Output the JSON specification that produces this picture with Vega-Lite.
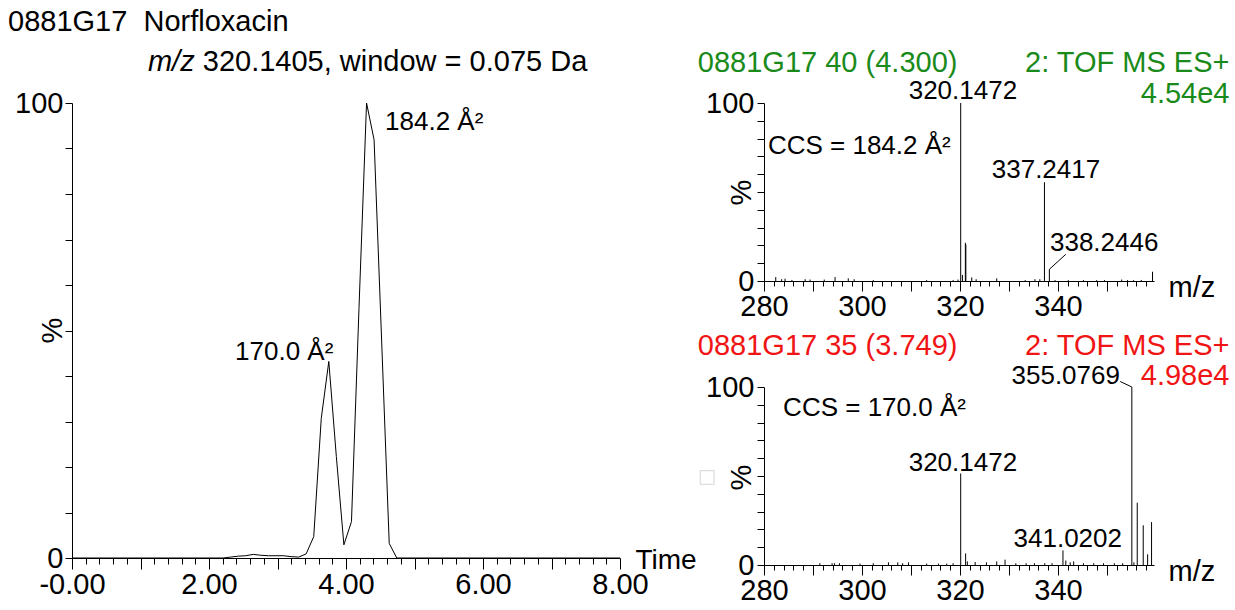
{
  "$schema": "https://vega.github.io/schema/vega-lite/v6.json",
  "background": "white",
  "padding": {"left": 8, "top": 8, "right": 5, "bottom": 5},
  "config": {
    "font": "Liberation Sans",
    "view": {"stroke": null},
    "axis": {"grid": false, "domainColor": "black", "tickColor": "black", "labelColor": "black", "titleColor": "black", "labelFont": "Liberation Sans", "titleFont": "Liberation Sans", "labelFontSize": 29, "titleFontSize": 29, "titleFontWeight": "normal", "tickCount": 200},
    "text": {"font": "Liberation Sans", "color": "black"}
  },
  "datasets": {
    "chrom": [
      {"t": 0, "pct": 0}, {"t": 2.206, "pct": 0}, {"t": 2.316, "pct": 0.2}, {"t": 2.426, "pct": 0.4},
      {"t": 2.537, "pct": 0.5}, {"t": 2.647, "pct": 0.8}, {"t": 2.757, "pct": 0.6}, {"t": 2.867, "pct": 0.5},
      {"t": 2.978, "pct": 0.5}, {"t": 3.088, "pct": 0.5}, {"t": 3.198, "pct": 0.3}, {"t": 3.308, "pct": 0.2},
      {"t": 3.418, "pct": 0.9}, {"t": 3.529, "pct": 4.7}, {"t": 3.639, "pct": 30.7}, {"t": 3.749, "pct": 43.2},
      {"t": 3.859, "pct": 22.3}, {"t": 3.969, "pct": 2.9}, {"t": 4.08, "pct": 8.0}, {"t": 4.19, "pct": 55},
      {"t": 4.3, "pct": 100}, {"t": 4.41, "pct": 91.9}, {"t": 4.52, "pct": 47.9}, {"t": 4.631, "pct": 3.2},
      {"t": 4.741, "pct": 0}, {"t": 8, "pct": 0}
    ],
    "chromLabels": [
      {"t": 4.57, "pct": 95.8, "label": "184.2 Å²"},
      {"t": 2.38, "pct": 45.3, "label": "170.0 Å²"}
    ],
    "titleNormal": [
      {"t": -0.934, "pct": 117.8, "label": "0881G17 \u00a0Norfloxacin"},
      {"t": 1.909, "pct": 109.0, "label": "320.1405, window = 0.075 Da"}
    ],
    "titleItalic": [
      {"t": 1.109, "pct": 109.0, "label": "m/z"}
    ],
    "specA": [
      {"mz": 282.4, "pct": 2.2}, {"mz": 283.6, "pct": 1.0}, {"mz": 284.3, "pct": 1.3}, {"mz": 285.7, "pct": 0.6},
      {"mz": 288.4, "pct": 1.0}, {"mz": 289.4, "pct": 0.8}, {"mz": 292.3, "pct": 0.8}, {"mz": 294.5, "pct": 2.2},
      {"mz": 297.2, "pct": 1.5}, {"mz": 298.4, "pct": 1.0}, {"mz": 302.3, "pct": 0.5}, {"mz": 313.2, "pct": 0.5},
      {"mz": 318.6, "pct": 0.5}, {"mz": 319.6, "pct": 0.8}, {"mz": 320.1472, "pct": 100}, {"mz": 320.5, "pct": 3.4},
      {"mz": 321.1, "pct": 21.5}, {"mz": 321.2, "pct": 20.5}, {"mz": 322.4, "pct": 2.0}, {"mz": 323.3, "pct": 1.0},
      {"mz": 327.5, "pct": 1.5}, {"mz": 333.3, "pct": 0.5}, {"mz": 335.3, "pct": 1.0}, {"mz": 336.3, "pct": 1.0},
      {"mz": 337.2417, "pct": 55.5}, {"mz": 338.2446, "pct": 6.6}, {"mz": 339.4, "pct": 0.5}, {"mz": 342.1, "pct": 0.5},
      {"mz": 345.2, "pct": 0.5}, {"mz": 347.9, "pct": 0.5}, {"mz": 349.5, "pct": 0.5}, {"mz": 353.0, "pct": 0.8},
      {"mz": 354.2, "pct": 0.5}, {"mz": 355.4, "pct": 0.5}, {"mz": 357.0, "pct": 0.6}, {"mz": 359.3, "pct": 5.2}
    ],
    "specB": [
      {"mz": 291.4, "pct": 1.0}, {"mz": 293.9, "pct": 1.0}, {"mz": 294.4, "pct": 1.0}, {"mz": 295.4, "pct": 1.0},
      {"mz": 299.6, "pct": 0.8}, {"mz": 302.3, "pct": 1.0}, {"mz": 305.4, "pct": 1.5}, {"mz": 307.3, "pct": 1.5},
      {"mz": 308.3, "pct": 1.0}, {"mz": 309.5, "pct": 1.5}, {"mz": 313.2, "pct": 0.8}, {"mz": 315.6, "pct": 0.8},
      {"mz": 317.3, "pct": 0.8}, {"mz": 318.6, "pct": 1.0}, {"mz": 320.1472, "pct": 51.4}, {"mz": 321.15, "pct": 6.5},
      {"mz": 321.5, "pct": 2.0}, {"mz": 323.1, "pct": 1.7}, {"mz": 325.4, "pct": 1.5}, {"mz": 327.5, "pct": 2.0},
      {"mz": 329.2, "pct": 3.0}, {"mz": 331.4, "pct": 1.0}, {"mz": 333.5, "pct": 1.0}, {"mz": 335.2, "pct": 1.0},
      {"mz": 337.3, "pct": 1.0}, {"mz": 338.8, "pct": 1.0}, {"mz": 341.0202, "pct": 8.2}, {"mz": 341.6, "pct": 2.5},
      {"mz": 342.5, "pct": 1.5}, {"mz": 343.2, "pct": 2.0}, {"mz": 345.2, "pct": 1.0}, {"mz": 347.3, "pct": 1.0},
      {"mz": 349.3, "pct": 1.0}, {"mz": 351.5, "pct": 1.0}, {"mz": 353.2, "pct": 1.0}, {"mz": 355.0769, "pct": 100},
      {"mz": 355.5, "pct": 1.5}, {"mz": 356.18, "pct": 35}, {"mz": 357.4, "pct": 22.3}, {"mz": 358.3, "pct": 6},
      {"mz": 359.1, "pct": 24.1}
    ],
    "labA_center": [
      {"mz": 320.6, "pct": 106.7, "label": "320.1472"},
      {"mz": 337.55, "pct": 62.4, "label": "337.2417"}
    ],
    "labA_left": [
      {"mz": 280.8, "pct": 75.8, "label": "CCS = 184.2 Å²"},
      {"mz": 338.37, "pct": 21.6, "label": "338.2446"}
    ],
    "leadA": [
      {"mz": 338.2446, "pct": 6.6, "mz2": 341.6, "pct2": 15}
    ],
    "headA_left": [
      {"mz": 266.5, "pct": 122.5, "label": "0881G17 40 (4.300)"}
    ],
    "headA_right": [
      {"mz": 375.0, "pct": 122.5, "label": "2: TOF MS ES+"},
      {"mz": 375.0, "pct": 105.2, "label": "4.54e4"}
    ],
    "labB_center": [
      {"mz": 320.6, "pct": 57.4, "label": "320.1472"},
      {"mz": 342.0, "pct": 14.4, "label": "341.0202"}
    ],
    "labB_left": [
      {"mz": 283.9, "pct": 88.2, "label": "CCS = 170.0 Å²"}
    ],
    "labB_right": [
      {"mz": 352.65, "pct": 106.3, "label": "355.0769"}
    ],
    "leadB": [
      {"mz": 352.7, "pct": 103.1, "mz2": 355.0769, "pct2": 100}
    ],
    "headB_left": [
      {"mz": 266.5, "pct": 123.2, "label": "0881G17 35 (3.749)"}
    ],
    "headB_right": [
      {"mz": 375.0, "pct": 123.2, "label": "2: TOF MS ES+"},
      {"mz": 375.0, "pct": 106.0, "label": "4.98e4"}
    ],
    "checkbox": [
      {"mz": 268.4, "pct": 49.2}
    ]
  },
  "spacing": 144,
  "bounds": "flush",
  "hconcat": [
    {
      "width": 548,
      "height": 455,
      "layer": [
        {
          "data": {"name": "chrom"},
          "mark": {"type": "line", "color": "black", "strokeWidth": 1},
          "encoding": {
            "x": {"field": "t", "type": "quantitative", "scale": {"domain": [0, 8], "nice": false, "zero": false},
              "axis": {"title": "Time", "titleX": 563, "titleY": 2, "titleAlign": "left", "titleBaseline": "middle", "titleFontSize": 28,
                "values": [0,0.2,0.4,0.6,0.8,1,1.2,1.4,1.6,1.8,2,2.2,2.4,2.6,2.8,3,3.2,3.4,3.6,3.8,4,4.2,4.4,4.6,4.8,5,5.2,5.4,5.6,5.8,6,6.2,6.4,6.6,6.8,7,7.2,7.4,7.6,7.8,8],
                "tickCount": 200, "labelOverlap": false, "labelFlush": false, "labelBound": false,
                "tickSize": {"condition": {"test": "abs(datum.value - round(datum.value)) < 0.001", "value": 11}, "value": 6},
                "labelExpr": "abs(datum.value/2 - round(datum.value/2)) < 0.001 ? (datum.value == 0 ? '-0.00' : format(datum.value, '.2f')) : ''",
                "labelPadding": 1}},
            "y": {"field": "pct", "type": "quantitative", "scale": {"domain": [0, 100], "nice": false},
              "axis": {"title": "%", "titleX": -20, "titleY": 227, "titleAngle": -90, "titleBaseline": "middle", "titleAlign": "center",
                "values": [0,10,20,30,40,50,60,70,80,90,100], "tickCount": 200, "tickSize": 7, "labelPadding": 2, "labelOverlap": false,
                "labelExpr": "datum.value == 0 || datum.value == 100 ? format(datum.value, 'd') : ''"}}
          }
        },
        {
          "data": {"name": "chromLabels"},
          "mark": {"type": "text", "align": "left", "baseline": "middle", "fontSize": 26},
          "encoding": {"x": {"field": "t", "type": "quantitative"}, "y": {"field": "pct", "type": "quantitative"}, "text": {"field": "label"}}
        },
        {
          "data": {"name": "titleNormal"},
          "mark": {"type": "text", "align": "left", "baseline": "middle", "fontSize": 29},
          "encoding": {"x": {"field": "t", "type": "quantitative"}, "y": {"field": "pct", "type": "quantitative"}, "text": {"field": "label"}}
        },
        {
          "data": {"name": "titleItalic"},
          "mark": {"type": "text", "align": "left", "baseline": "middle", "fontSize": 29, "fontStyle": "italic"},
          "encoding": {"x": {"field": "t", "type": "quantitative"}, "y": {"field": "pct", "type": "quantitative"}, "text": {"field": "label"}}
        }
      ]
    },
    {
      "spacing": 106,
      "bounds": "flush",
      "vconcat": [
        {
          "width": 390,
          "height": 178,
          "layer": [
            {
              "data": {"name": "specA"},
              "mark": {"type": "rule", "color": "black", "strokeWidth": 1},
              "encoding": {
                "x": {"field": "mz", "type": "quantitative", "scale": {"domain": [280, 359.6], "nice": false, "zero": false},
                  "axis": {"title": "m/z", "titleX": 404, "titleY": 6, "titleAlign": "left", "titleBaseline": "middle",
                    "values": [280,282,284,286,288,290,292,294,296,298,300,302,304,306,308,310,312,314,316,318,320,322,324,326,328,330,332,334,336,338,340,342,344,346,348,350,352,354,356,358],
                    "tickCount": 200, "labelOverlap": false, "labelFlush": false, "labelBound": false,
                    "tickSize": {"condition": {"test": "datum.value % 10 == 0", "value": 10}, "value": 5},
                    "labelExpr": "datum.value % 20 == 0 ? format(datum.value, 'd') : ''", "labelPadding": 1}},
                "y": {"field": "pct", "type": "quantitative", "scale": {"domain": [0, 100], "nice": false},
                  "axis": {"title": "%", "titleX": -23, "titleY": 89, "titleAngle": -90, "titleBaseline": "middle", "titleAlign": "center",
                    "values": [0,10,20,30,40,50,60,70,80,90,100], "tickCount": 200, "tickSize": 7, "labelPadding": 3, "labelOverlap": false,
                    "labelExpr": "datum.value == 0 || datum.value == 100 ? format(datum.value, 'd') : ''"}},
                "y2": {"datum": 0}
              }
            },
            {
              "data": {"name": "leadA"},
              "mark": {"type": "rule", "color": "black", "strokeWidth": 1},
              "encoding": {"x": {"field": "mz", "type": "quantitative"}, "y": {"field": "pct", "type": "quantitative"}, "x2": {"field": "mz2"}, "y2": {"field": "pct2"}}
            },
            {
              "data": {"name": "labA_center"},
              "mark": {"type": "text", "align": "center", "baseline": "middle", "fontSize": 26},
              "encoding": {"x": {"field": "mz", "type": "quantitative"}, "y": {"field": "pct", "type": "quantitative"}, "text": {"field": "label"}}
            },
            {
              "data": {"name": "labA_left"},
              "mark": {"type": "text", "align": "left", "baseline": "middle", "fontSize": 26},
              "encoding": {"x": {"field": "mz", "type": "quantitative"}, "y": {"field": "pct", "type": "quantitative"}, "text": {"field": "label"}}
            },
            {
              "data": {"name": "headA_left"},
              "mark": {"type": "text", "align": "left", "baseline": "middle", "fontSize": 29, "color": "#1a8a1a"},
              "encoding": {"x": {"field": "mz", "type": "quantitative"}, "y": {"field": "pct", "type": "quantitative"}, "text": {"field": "label"}}
            },
            {
              "data": {"name": "headA_right"},
              "mark": {"type": "text", "align": "right", "baseline": "middle", "fontSize": 29, "color": "#1a8a1a"},
              "encoding": {"x": {"field": "mz", "type": "quantitative"}, "y": {"field": "pct", "type": "quantitative"}, "text": {"field": "label"}}
            }
          ]
        },
        {
          "width": 390,
          "height": 178,
          "layer": [
            {
              "data": {"name": "specB"},
              "mark": {"type": "rule", "color": "black", "strokeWidth": 1},
              "encoding": {
                "x": {"field": "mz", "type": "quantitative", "scale": {"domain": [280, 359.6], "nice": false, "zero": false},
                  "axis": {"title": "m/z", "titleX": 404, "titleY": 6, "titleAlign": "left", "titleBaseline": "middle",
                    "values": [280,282,284,286,288,290,292,294,296,298,300,302,304,306,308,310,312,314,316,318,320,322,324,326,328,330,332,334,336,338,340,342,344,346,348,350,352,354,356,358],
                    "tickCount": 200, "labelOverlap": false, "labelFlush": false, "labelBound": false,
                    "tickSize": {"condition": {"test": "datum.value % 10 == 0", "value": 10}, "value": 5},
                    "labelExpr": "datum.value % 20 == 0 ? format(datum.value, 'd') : ''", "labelPadding": 1}},
                "y": {"field": "pct", "type": "quantitative", "scale": {"domain": [0, 100], "nice": false},
                  "axis": {"title": "%", "titleX": -23, "titleY": 90, "titleAngle": -90, "titleBaseline": "middle", "titleAlign": "center",
                    "values": [0,10,20,30,40,50,60,70,80,90,100], "tickCount": 200, "tickSize": 7, "labelPadding": 3, "labelOverlap": false,
                    "labelExpr": "datum.value == 0 || datum.value == 100 ? format(datum.value, 'd') : ''"}},
                "y2": {"datum": 0}
              }
            },
            {
              "data": {"name": "leadB"},
              "mark": {"type": "rule", "color": "black", "strokeWidth": 1},
              "encoding": {"x": {"field": "mz", "type": "quantitative"}, "y": {"field": "pct", "type": "quantitative"}, "x2": {"field": "mz2"}, "y2": {"field": "pct2"}}
            },
            {
              "data": {"name": "checkbox"},
              "mark": {"type": "point", "shape": "square", "size": 190, "filled": false, "stroke": "#cfcfcf", "strokeWidth": 1.2},
              "encoding": {"x": {"field": "mz", "type": "quantitative"}, "y": {"field": "pct", "type": "quantitative"}}
            },
            {
              "data": {"name": "labB_center"},
              "mark": {"type": "text", "align": "center", "baseline": "middle", "fontSize": 26},
              "encoding": {"x": {"field": "mz", "type": "quantitative"}, "y": {"field": "pct", "type": "quantitative"}, "text": {"field": "label"}}
            },
            {
              "data": {"name": "labB_left"},
              "mark": {"type": "text", "align": "left", "baseline": "middle", "fontSize": 26},
              "encoding": {"x": {"field": "mz", "type": "quantitative"}, "y": {"field": "pct", "type": "quantitative"}, "text": {"field": "label"}}
            },
            {
              "data": {"name": "labB_right"},
              "mark": {"type": "text", "align": "right", "baseline": "middle", "fontSize": 26},
              "encoding": {"x": {"field": "mz", "type": "quantitative"}, "y": {"field": "pct", "type": "quantitative"}, "text": {"field": "label"}}
            },
            {
              "data": {"name": "headB_left"},
              "mark": {"type": "text", "align": "left", "baseline": "middle", "fontSize": 29, "color": "#f01414"},
              "encoding": {"x": {"field": "mz", "type": "quantitative"}, "y": {"field": "pct", "type": "quantitative"}, "text": {"field": "label"}}
            },
            {
              "data": {"name": "headB_right"},
              "mark": {"type": "text", "align": "right", "baseline": "middle", "fontSize": 29, "color": "#f01414"},
              "encoding": {"x": {"field": "mz", "type": "quantitative"}, "y": {"field": "pct", "type": "quantitative"}, "text": {"field": "label"}}
            }
          ]
        }
      ]
    }
  ]
}
